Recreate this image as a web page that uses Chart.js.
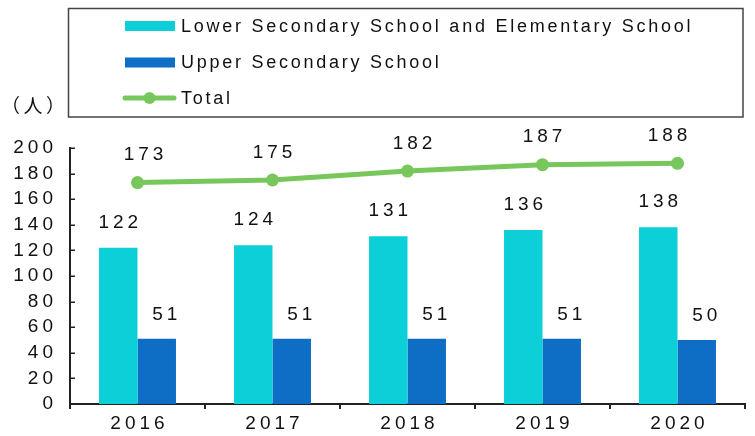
<!DOCTYPE html>
<html>
<head>
<meta charset="utf-8">
<script src="https://cdn.jsdelivr.net/npm/chart.js@4.4.1/dist/chart.umd.min.js"></script>
<style>
  html, body { margin: 0; padding: 0; background: #fff; }
  #wrap { width: 755px; height: 436px; position: relative; }
</style>
</head>
<body>
<div id="wrap"><canvas id="chart"></canvas></div>
<script>
const years = ['2016', '2017', '2018', '2019', '2020'];
const lowerAndElementary = [122, 124, 131, 136, 138];
const upperSecondary = [51, 51, 51, 51, 50];
const total = [173, 175, 182, 187, 188];
const yTicks = [0, 20, 40, 60, 80, 100, 120, 140, 160, 180, 200];

const FONT = "'Liberation Sans', Arial, sans-serif";
const DIGIT_SPACING = '4px';

// small manual nudges for the total labels, like the original
const totalLabelShift = [6, 0, 5, 0, -10];

// legend box, unit label and value labels drawn by hand
const decorations = {
    id: 'decorations',
    beforeLayout(chart) {
        chart.ctx.letterSpacing = DIGIT_SPACING;
    },
    beforeDraw(chart) {
        chart.ctx.letterSpacing = DIGIT_SPACING;
    },
    afterDraw(chart) {
        const ctx = chart.ctx;
        const area = chart.chartArea;
        ctx.save();

        // inner ticks on y axis
        const yScale = chart.scales.y;
        ctx.strokeStyle = '#222';
        ctx.lineWidth = 1.5;
        yScale.ticks.forEach(t => {
            const py = Math.round(yScale.getPixelForValue(t.value)) + 0.25;
            ctx.beginPath();
            ctx.moveTo(area.left, py);
            ctx.lineTo(area.left + 5, py);
            ctx.stroke();
        });

        // value labels
        ctx.letterSpacing = DIGIT_SPACING;
        ctx.fillStyle = '#111';
        ctx.font = '19px ' + FONT;
        ctx.textAlign = 'center';
        ctx.textBaseline = 'middle';
        chart.data.datasets.forEach((ds, i) => {
            const meta = chart.getDatasetMeta(i);
            meta.data.forEach((el, j) => {
                let dx = 2, dy = -25.5;
                if (ds.type === 'line') { dx += totalLabelShift[j]; dy = -27.5; }
                else if (i === 1) { dx += 8; dy = -24; }
                ctx.fillText(String(ds.data[j]), el.x + dx, el.y + dy);
            });
        });

        // legend box
        ctx.letterSpacing = '0px';
        ctx.strokeStyle = '#444';
        ctx.lineWidth = 1.5;
        ctx.strokeRect(68.5, 8.5, 674.5, 108.5);

        ctx.letterSpacing = '2.75px';
        ctx.font = '18px ' + FONT;
        ctx.textAlign = 'left';
        ctx.textBaseline = 'middle';
        const rows = [26, 62.5, 98];
        chart.data.datasets.forEach((ds, i) => {
            const y = rows[i];
            if (ds.type === 'line') {
                ctx.strokeStyle = ds.borderColor;
                ctx.lineWidth = 5;
                ctx.lineCap = 'round';
                ctx.beginPath();
                ctx.moveTo(125, y);
                ctx.lineTo(174, y);
                ctx.stroke();
                ctx.fillStyle = ds.borderColor;
                ctx.beginPath();
                ctx.arc(149.5, y, 6, 0, Math.PI * 2);
                ctx.fill();
            } else {
                ctx.fillStyle = ds.backgroundColor;
                ctx.fillRect(125, y - 5, 50, 10);
            }
            ctx.fillStyle = '#111';
            ctx.fillText(ds.label, 181, y + 1);
        });

        // unit label
        ctx.letterSpacing = '3.5px';
        ctx.font = "19px 'Noto Sans CJK JP', sans-serif";
        ctx.fillStyle = '#111';
        ctx.fillText('（人）', 1, 106);

        ctx.restore();
    }
};

const ctx = document.getElementById('chart');

new Chart(ctx, {
    data: {
        labels: years,
        datasets: [
            {
                type: 'bar',
                label: 'Lower Secondary School and Elementary School',
                data: lowerAndElementary,
                backgroundColor: '#0ccfd8',
                order: 2
            },
            {
                type: 'bar',
                label: 'Upper Secondary School',
                data: upperSecondary,
                backgroundColor: '#0e6dc4',
                order: 2
            },
            {
                type: 'line',
                label: 'Total',
                data: total,
                borderColor: '#77c75c',
                backgroundColor: '#77c75c',
                borderWidth: 5,
                pointRadius: 6.5,
                pointBorderWidth: 0,
                pointBackgroundColor: '#77c75c',
                tension: 0,
                order: 1
            }
        ]
    },
    options: {
        responsive: true,
        maintainAspectRatio: false,
        animation: false,
        categoryPercentage: 0.57,
        barPercentage: 1,
        layout: {
            padding: { top: 148, right: 10, bottom: 0, left: 0 }
        },
        plugins: {
            legend: { display: false },
            tooltip: { enabled: false }
        },
        scales: {
            x: {
                afterFit(scale) { scale.height = 32; },
                grid: {
                    display: true,
                    drawOnChartArea: false,
                    drawTicks: true,
                    tickLength: 5,
                    color: '#222',
                    lineWidth: 2,
                    offset: true
                },
                border: { display: true, color: '#222', width: 2 },
                ticks: {
                    color: '#111',
                    font: { family: FONT, size: 19 },
                    padding: 3,
                    labelOffset: 2,
                    autoSkip: false
                }
            },
            y: {
                min: 0,
                max: 200,
                afterFit(scale) { scale.width = 70; },
                afterBuildTicks(scale) {
                    scale.ticks = yTicks.map(v => ({ value: v }));
                },
                grid: { display: false, drawTicks: false },
                border: { display: true, color: '#222', width: 2 },
                ticks: {
                    color: '#111',
                    font: { family: FONT, size: 19 },
                    padding: 13,
                    autoSkip: false
                }
            }
        }
    },
    plugins: [decorations]
});
</script>
</body>
</html>
